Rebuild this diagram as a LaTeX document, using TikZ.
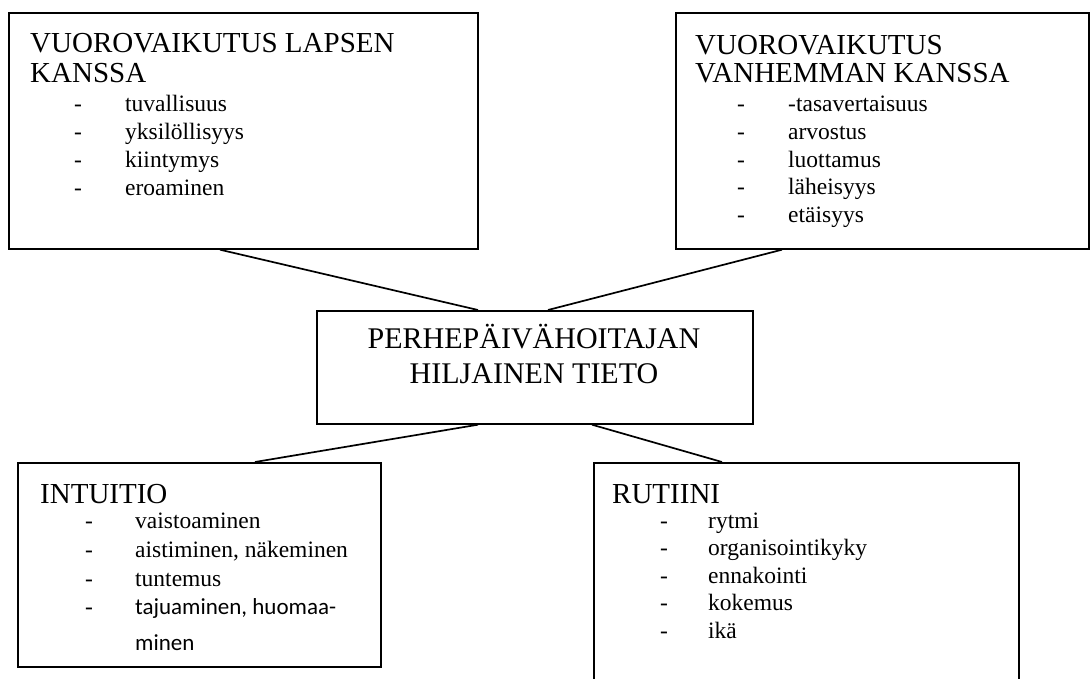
\documentclass[tikz,border=0pt]{standalone}
\usepackage{fontspec}
\setmainfont{Liberation Serif}
\newfontfamily\calfont{Carlito}
\usetikzlibrary{positioning}

\tikzset{
  box/.style={draw, line width=1.7pt, inner sep=0pt, anchor=north west},
  head/.style={anchor=base west, inner sep=0pt, font=\fontsize{29}{32}\selectfont},
  dashmark/.style={anchor=base west, inner sep=0pt, font=\fontsize{23.5}{27}\selectfont},
  item/.style={anchor=base west, inner sep=0pt, font=\fontsize{23.5}{27}\selectfont},
  mid/.style={anchor=base, inner sep=0pt, font=\fontsize{30}{34}\selectfont},
  link/.style={line width=1.7pt}
}

\begin{document}
\begin{tikzpicture}[x=1pt, y=-1pt]
    \useasboundingbox (0,0) rectangle (1090,679);
    \clip (0,0) rectangle (1090,679);

    % Laatikot
    \node[box, minimum width=469pt, minimum height=236pt] (lapsi) at (8,12) {};
    \node[box, minimum width=413pt, minimum height=236pt] (vanhempi) at (675,12) {};
    \node[box, minimum width=436pt, minimum height=113pt] (tieto) at (316,310) {};
    \node[box, minimum width=363pt, minimum height=204pt] (intuitio) at (17,462) {};
    \node[box, minimum width=425pt, minimum height=250pt] (rutiini) at (593,462) {};

    % Vuorovaikutus lapsen kanssa
    \node[head] (lapsiH1) at (30,53) {VUOROVAIKUTUS LAPSEN};
    \node[head] (lapsiH2) at (30,83) {KANSSA};
    \foreach \w [count=\i] in {tuvallisuus, yksilöllisyys, kiintymys, eroaminen}{
        \node[dashmark] (lapsiD\i) at (74, {112+27.7*(\i-1)}) {-};
        \node[item] (lapsiI\i) at (125, {112+27.7*(\i-1)}) {\w};
    }

    % Vuorovaikutus vanhemman kanssa
    \node[head] (vanhH1) at (695,55) {VUOROVAIKUTUS};
    \node[head] (vanhH2) at (695,83) {VANHEMMAN KANSSA};
    \foreach \w [count=\i] in {-tasavertaisuus, arvostus, luottamus, läheisyys, etäisyys}{
        \node[dashmark] (vanhD\i) at (737, {112+27.6*(\i-1)}) {-};
        \node[item] (vanhI\i) at (788, {112+27.6*(\i-1)}) {\w};
    }

    % Keskella
    \node[mid] (tieto1) at (534,348) {PERHEPÄIVÄHOITAJAN};
    \node[mid] (tieto2) at (534,383) {HILJAINEN TIETO};

    % Intuitio
    \node[head] (intH) at (40,503) {INTUITIO};
    \foreach \w [count=\i] in {vaistoaminen, {aistiminen, näkeminen}, tuntemus}{
        \node[dashmark] (intD\i) at (85, {528+29*(\i-1)}) {-};
        \node[item] (intI\i) at (135, {528+29*(\i-1)}) {\w};
    }
    \node[dashmark] (intD4) at (85,614) {-};
    \node[item, font=\calfont\fontsize{23}{27}\selectfont] (intI4) at (135,614) {tajuaminen, huomaa-};
    \node[item, font=\calfont\fontsize{23}{27}\selectfont] (intI5) at (135,650) {minen};

    % Rutiini
    \node[head] (rutH) at (612,503) {RUTIINI};
    \foreach \w [count=\i] in {rytmi, organisointikyky, ennakointi, kokemus, ikä}{
        \node[dashmark] (rutD\i) at (660, {528+27.6*(\i-1)}) {-};
        \node[item] (rutI\i) at (708, {528+27.6*(\i-1)}) {\w};
    }

    % Yhdysviivat
    \coordinate (lapsiA) at ([xshift=212pt]lapsi.south west);
    \coordinate (vanhA) at ([xshift=107pt]vanhempi.south west);
    \coordinate (tietoA) at ([xshift=162pt]tieto.north west);
    \coordinate (tietoB) at ([xshift=232pt]tieto.north west);
    \coordinate (tietoC) at ([xshift=162pt]tieto.south west);
    \coordinate (tietoD) at ([xshift=276pt]tieto.south west);
    \coordinate (intA) at ([xshift=238pt]intuitio.north west);
    \coordinate (rutA) at ([xshift=129pt]rutiini.north west);
    \draw[link] (lapsiA) -- (tietoA);
    \draw[link] (vanhA) -- (tietoB);
    \draw[link] (tietoC) -- (intA);
    \draw[link] (tietoD) -- (rutA);
\end{tikzpicture}
\end{document}
